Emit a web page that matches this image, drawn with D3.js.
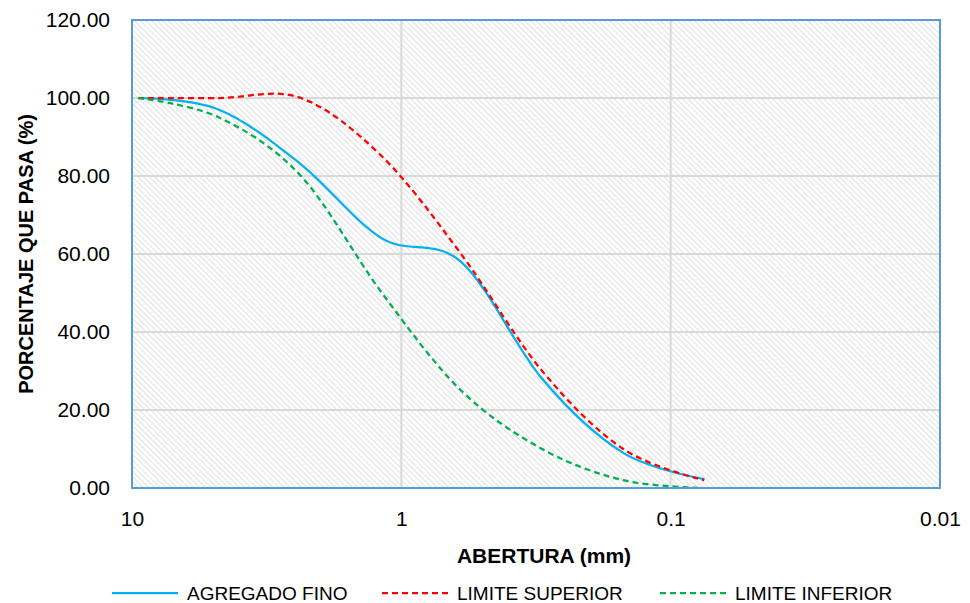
<!DOCTYPE html>
<html>
<head>
<meta charset="utf-8">
<script src="https://cdn.jsdelivr.net/npm/d3@7"></script>
<style>
  body { margin: 0; background: #fff; }
  text { font-family: "Liberation Sans", Arial, sans-serif; fill: #000; }
</style>
</head>
<body>
<div class="canvas"></div>
<script>
const sieves = [9.5, 4.75, 2.36, 1.18, 0.6, 0.3, 0.15, 0.075];
const agregadoFino = [100, 97, 83, 64, 58, 28, 9, 2.3];
const limiteSuperior = [100, 100, 100, 85, 60, 30, 10, 2];
const limiteInferior = [100, 95, 80, 50, 25, 10, 2, 0];
const xTicks = [10, 1, 0.1, 0.01];
const yTicks = [0, 20, 40, 60, 80, 100, 120];

const series = [
  { name: 'AGREGADO FINO', values: agregadoFino, color: '#00b0f0', dash: null },
  { name: 'LIMITE SUPERIOR', values: limiteSuperior, color: '#ff0000', dash: '6,4' },
  { name: 'LIMITE INFERIOR', values: limiteInferior, color: '#00b050', dash: '6,4' },
];

const dims = { width: 970, height: 603 };
const plot = { left: 132, right: 940, top: 20, bottom: 488 };

const svg = d3.select('.canvas')
  .append('svg')
  .attr('width', dims.width)
  .attr('height', dims.height);

// hatch pattern of the plot area
const pat = svg.append('defs').append('pattern')
  .attr('id', 'hatch')
  .attr('patternUnits', 'userSpaceOnUse')
  .attr('width', 4)
  .attr('height', 4)
  .attr('patternTransform', 'rotate(-45)');
pat.append('rect').attr('width', 4).attr('height', 4).attr('fill', '#fff');
pat.append('line')
  .attr('x1', 0).attr('y1', 0).attr('x2', 0).attr('y2', 4)
  .attr('stroke', '#d9d9d9').attr('stroke-width', 1.6);

const x = d3.scaleLog().domain([10, 0.01]).range([plot.left, plot.right]);
const y = d3.scaleLinear().domain([0, 120]).range([plot.bottom, plot.top]);

svg.append('rect')
  .attr('x', plot.left).attr('y', plot.top)
  .attr('width', plot.right - plot.left)
  .attr('height', plot.bottom - plot.top)
  .attr('fill', 'url(#hatch)');

// grid
svg.append('g')
  .selectAll('line.h')
  .data(yTicks)
  .join('line')
  .attr('x1', plot.left).attr('x2', plot.right)
  .attr('y1', d => y(d)).attr('y2', d => y(d))
  .attr('stroke', '#d9d9d9').attr('stroke-width', 2);

svg.append('g')
  .selectAll('line.v')
  .data(xTicks)
  .join('line')
  .attr('x1', d => x(d)).attr('x2', d => x(d))
  .attr('y1', plot.top).attr('y2', plot.bottom)
  .attr('stroke', '#d9d9d9').attr('stroke-width', 2);

// y axis
const yAxis = svg.append('g')
  .attr('transform', `translate(${plot.left},0)`)
  .call(d3.axisLeft(y).tickValues(yTicks).tickFormat(d3.format('.2f')).tickSize(0).tickPadding(22));
yAxis.select('.domain').remove();
yAxis.selectAll('text').style('font-size', '21px');

// x axis
const xAxis = svg.append('g')
  .attr('transform', `translate(0,${plot.bottom})`)
  .call(d3.axisBottom(x).tickValues(xTicks).tickFormat(d => String(d)).tickSize(0).tickPadding(23));
xAxis.select('.domain').remove();
xAxis.selectAll('text').style('font-size', '21px');

// lines
const line = d3.line()
  .x((d, i) => x(sieves[i]))
  .y(d => y(d))
  .curve(d3.curveCatmullRom.alpha(0));

svg.append('g')
  .selectAll('path')
  .data(series)
  .join('path')
  .attr('d', d => line(d.values))
  .attr('fill', 'none')
  .attr('stroke', d => d.color)
  .attr('stroke-width', 2.25)
  .attr('stroke-dasharray', d => d.dash);

// border
svg.append('rect')
  .attr('x', plot.left).attr('y', plot.top)
  .attr('width', plot.right - plot.left)
  .attr('height', plot.bottom - plot.top)
  .attr('fill', 'none')
  .attr('stroke', '#5b9bd5')
  .attr('stroke-width', 2);

// titles
svg.append('text')
  .attr('x', 544).attr('y', 563)
  .attr('text-anchor', 'middle')
  .style('font-size', '21px').style('font-weight', 'bold')
  .text('ABERTURA (mm)');

svg.append('text')
  .attr('transform', 'translate(33,254) rotate(-90)')
  .attr('text-anchor', 'middle')
  .style('font-size', '20px').style('font-weight', 'bold')
  .text('PORCENTAJE QUE PASA (%)');

// legend
const legendX = [112, 382, 660];
const legend = svg.append('g')
  .selectAll('g')
  .data(series)
  .join('g')
  .attr('transform', (d, i) => `translate(${legendX[i]},593)`);

legend.append('line')
  .attr('x1', 0).attr('x2', 66)
  .attr('stroke', d => d.color)
  .attr('stroke-width', 2.25)
  .attr('stroke-dasharray', d => d.dash);

legend.append('text')
  .attr('x', 75).attr('dy', '0.35em')
  .style('font-size', '19px')
  .text(d => d.name);
</script>
</body>
</html>
